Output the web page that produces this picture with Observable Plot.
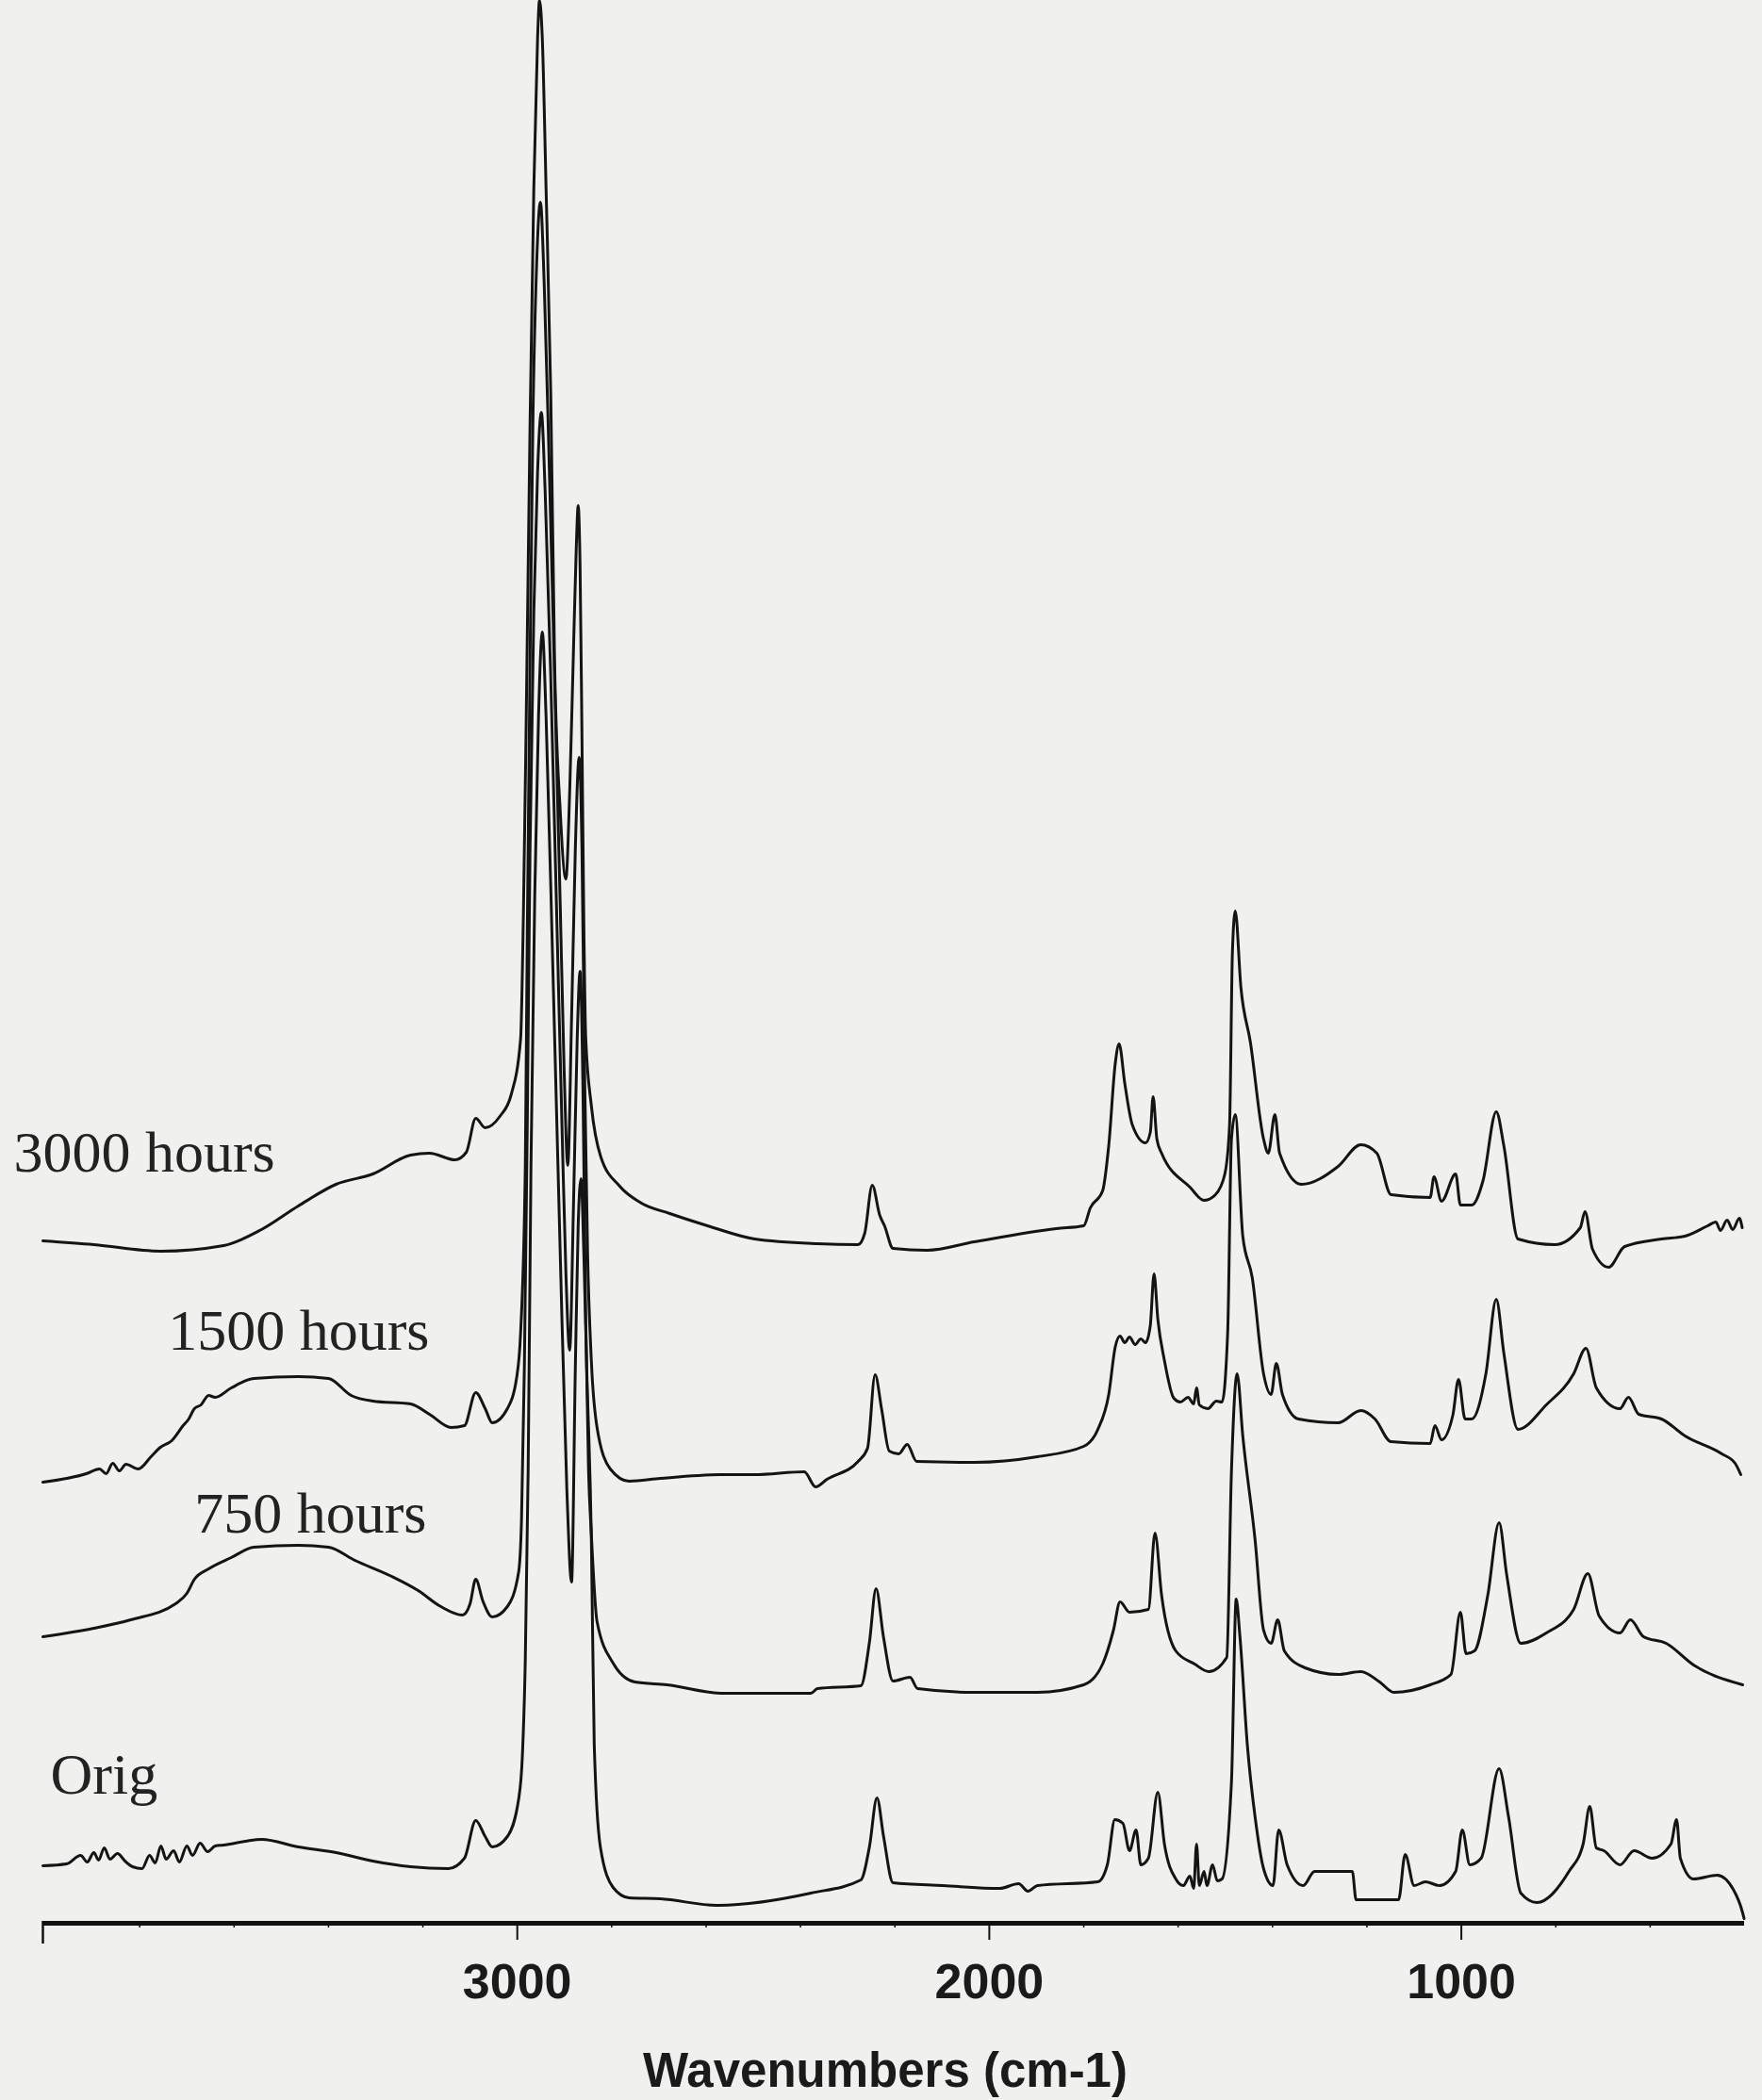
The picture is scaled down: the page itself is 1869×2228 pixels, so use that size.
<!DOCTYPE html>
<html><head><meta charset="utf-8">
<script src="https://cdn.jsdelivr.net/npm/d3@7"></script>
<script src="https://cdn.jsdelivr.net/npm/@observablehq/plot@0.6"></script>
<style>
html,body{margin:0;padding:0;background:#f0f0ee;}
</style>
</head><body><div id="chart"></div>
<script>
// Series names (top to bottom)
const seriesNames = ["3000 hours", "1500 hours", "750 hours", "Orig"];

// Spectra: [wavenumber (cm-1), stacked intensity (a.u.)]
const h3000 = [[4005,7.24],[3897,7.20],[3756,7.13],[3622,7.19],[3542,7.36],[3464,7.61],[3384,7.84],[3306,7.95],[3226,8.15],[3186,8.17],[3132,8.10],[3108,8.18],[3088,8.54],[3068,8.44],[3037,8.56],[3013,8.79],[2993,9.38],[2987,10.72],[2981,12.80],[2973,15.90],[2965,18.40],[2957,20.00],[2953,20.40],[2947,20.00],[2939,18.40],[2929,16.20],[2921,13.40],[2909,11.80],[2897,11.08],[2889,12.00],[2881,13.50],[2875,14.60],[2871,15.04],[2867,14.40],[2863,12.60],[2859,10.60],[2855,9.40],[2843,8.67],[2823,8.13],[2783,7.82],[2737,7.64],[2677,7.53],[2597,7.40],[2497,7.26],[2364,7.21],[2278,7.20],[2264,7.32],[2248,7.83],[2232,7.51],[2222,7.40],[2204,7.16],[2132,7.14],[2032,7.23],[1858,7.37],[1800,7.40],[1786,7.59],[1760,7.77],[1747,8.25],[1733,9.13],[1725,9.33],[1713,8.91],[1697,8.47],[1669,8.28],[1659,8.39],[1653,8.77],[1645,8.32],[1635,8.17],[1575,7.81],[1545,7.67],[1521,7.73],[1501,7.95],[1491,8.47],[1485,10.30],[1479,10.74],[1467,9.93],[1447,9.35],[1419,8.32],[1409,8.17],[1395,8.58],[1385,8.17],[1339,7.84],[1261,8.03],[1213,8.26],[1179,8.17],[1149,7.73],[1066,7.70],[1058,7.92],[1042,7.66],[1012,7.95],[1002,7.62],[978,7.62],[954,7.88],[926,8.61],[910,8.25],[880,7.26],[802,7.20],[748,7.38],[738,7.55],[722,7.15],[688,6.96],[654,7.18],[576,7.26],[526,7.29],[478,7.40],[461,7.44],[451,7.35],[437,7.46],[425,7.36],[411,7.48],[405,7.38]];

const h1500 = [[4005,4.68],[3913,4.77],[3885,4.82],[3871,4.77],[3857,4.88],[3843,4.80],[3829,4.87],[3803,4.82],[3776,4.95],[3756,5.05],[3732,5.12],[3708,5.28],[3696,5.35],[3684,5.46],[3670,5.50],[3654,5.60],[3640,5.58],[3606,5.68],[3558,5.78],[3464,5.80],[3400,5.78],[3352,5.60],[3306,5.54],[3226,5.51],[3186,5.40],[3140,5.26],[3112,5.28],[3088,5.63],[3068,5.46],[3053,5.31],[3021,5.46],[3001,5.80],[2993,6.26],[2983,8.04],[2979,10.40],[2973,13.40],[2967,15.90],[2959,17.60],[2951,18.26],[2943,17.40],[2933,15.60],[2921,13.20],[2909,10.80],[2901,9.10],[2893,8.04],[2885,9.60],[2877,11.40],[2869,12.37],[2863,11.40],[2857,8.90],[2851,7.10],[2843,5.96],[2831,5.26],[2803,4.82],[2763,4.69],[2697,4.72],[2563,4.76],[2497,4.76],[2392,4.79],[2368,4.63],[2344,4.71],[2278,4.90],[2258,5.04],[2242,5.82],[2228,5.45],[2212,5.01],[2192,4.98],[2174,5.08],[2154,4.90],[2032,4.89],[1898,4.95],[1800,5.06],[1770,5.24],[1747,5.61],[1733,6.12],[1723,6.23],[1713,6.16],[1703,6.22],[1691,6.14],[1679,6.20],[1669,6.16],[1659,6.34],[1651,6.89],[1643,6.41],[1629,5.97],[1609,5.57],[1595,5.53],[1579,5.58],[1567,5.51],[1561,5.68],[1555,5.50],[1537,5.46],[1519,5.54],[1507,5.53],[1495,6.27],[1487,8.32],[1479,8.58],[1463,7.29],[1443,6.85],[1419,5.83],[1403,5.61],[1392,5.94],[1379,5.61],[1345,5.35],[1261,5.31],[1213,5.44],[1183,5.35],[1149,5.11],[1066,5.09],[1056,5.28],[1042,5.13],[1018,5.39],[1006,5.77],[992,5.35],[978,5.35],[948,5.83],[926,6.62],[910,6.05],[880,5.24],[820,5.50],[762,5.83],[736,6.10],[714,5.68],[664,5.46],[646,5.58],[624,5.40],[576,5.35],[526,5.17],[448,4.98],[420,4.88],[408,4.76]];

const h750 = [[4005,3.04],[3897,3.13],[3819,3.22],[3724,3.39],[3700,3.50],[3684,3.65],[3654,3.76],[3606,3.88],[3558,3.99],[3464,4.01],[3400,3.99],[3344,3.85],[3266,3.68],[3210,3.53],[3162,3.36],[3116,3.27],[3100,3.39],[3088,3.65],[3073,3.42],[3053,3.25],[3021,3.36],[2997,3.73],[2991,4.29],[2985,5.90],[2979,8.40],[2973,11.40],[2965,13.90],[2957,15.40],[2949,16.03],[2941,15.20],[2929,13.20],[2917,10.80],[2905,8.40],[2897,6.90],[2889,6.08],[2881,7.60],[2873,9.40],[2867,10.10],[2861,8.90],[2855,6.40],[2849,4.80],[2843,4.12],[2831,3.20],[2797,2.76],[2751,2.56],[2683,2.53],[2563,2.44],[2378,2.44],[2364,2.49],[2272,2.52],[2254,2.98],[2240,3.55],[2224,3.03],[2204,2.57],[2168,2.61],[2152,2.49],[2032,2.45],[1898,2.45],[1800,2.53],[1760,2.75],[1737,3.11],[1723,3.41],[1703,3.30],[1663,3.33],[1649,4.14],[1635,3.48],[1605,2.89],[1565,2.75],[1535,2.67],[1497,2.82],[1487,4.80],[1475,5.83],[1463,5.17],[1437,4.07],[1419,3.11],[1403,2.97],[1389,3.22],[1375,2.89],[1331,2.71],[1261,2.64],[1213,2.67],[1173,2.56],[1143,2.45],[1066,2.53],[1022,2.64],[1002,3.30],[990,2.86],[972,2.89],[944,3.48],[920,4.25],[904,3.70],[874,2.97],[820,3.08],[762,3.33],[732,3.71],[708,3.26],[664,3.08],[642,3.22],[614,3.04],[566,2.97],[508,2.74],[404,2.53]];

const orig = [[4005,0.61],[3955,0.63],[3925,0.72],[3911,0.65],[3897,0.75],[3887,0.67],[3875,0.80],[3863,0.68],[3847,0.74],[3831,0.66],[3815,0.60],[3795,0.58],[3779,0.72],[3767,0.64],[3755,0.82],[3744,0.68],[3728,0.77],[3716,0.65],[3700,0.82],[3688,0.72],[3672,0.85],[3656,0.76],[3640,0.82],[3622,0.83],[3576,0.87],[3542,0.89],[3464,0.81],[3384,0.75],[3306,0.66],[3226,0.60],[3146,0.58],[3112,0.69],[3088,1.09],[3068,0.92],[3053,0.81],[3021,0.92],[2997,1.32],[2989,1.80],[2983,2.80],[2977,4.80],[2971,8.04],[2963,10.90],[2955,12.80],[2947,13.70],[2939,12.80],[2925,10.20],[2909,7.10],[2895,4.60],[2885,3.62],[2877,5.90],[2871,7.40],[2865,7.90],[2859,7.10],[2853,5.90],[2843,4.06],[2837,1.90],[2824,0.81],[2797,0.38],[2763,0.27],[2697,0.26],[2577,0.19],[2378,0.32],[2272,0.46],[2254,0.81],[2238,1.33],[2224,0.92],[2204,0.43],[2098,0.40],[1978,0.37],[1938,0.42],[1918,0.34],[1898,0.40],[1770,0.44],[1750,0.62],[1734,1.10],[1717,1.06],[1703,0.77],[1689,0.99],[1679,0.62],[1663,0.69],[1643,1.39],[1629,0.84],[1605,0.47],[1589,0.40],[1575,0.50],[1567,0.37],[1561,0.84],[1555,0.40],[1545,0.55],[1539,0.40],[1527,0.62],[1517,0.45],[1507,0.47],[1487,1.50],[1477,3.44],[1469,3.04],[1453,1.87],[1437,1.13],[1419,0.58],[1399,0.40],[1387,0.99],[1369,0.62],[1335,0.40],[1311,0.55],[1231,0.55],[1223,0.25],[1133,0.25],[1119,0.73],[1100,0.40],[1076,0.44],[1046,0.40],[1012,0.55],[998,0.99],[982,0.62],[958,0.69],[920,1.64],[900,1.13],[874,0.32],[840,0.22],[772,0.55],[742,0.84],[728,1.24],[714,0.80],[698,0.77],[664,0.62],[634,0.77],[596,0.69],[556,0.84],[544,1.10],[536,0.69],[508,0.47],[458,0.51],[424,0.36],[404,0.11],[401,0.05]];

// Axis ticks
const majorTicks = [3000, 2000, 1000];
const minorTicks = [3800, 3600, 3400, 3200, 2800, 2600, 2400, 2200, 1800, 1600, 1400, 1200, 800, 600];
const xDomain = [4005, 400];
const axisTitle = "Wavenumbers (cm-1)";

// Series label anchors (data coordinates)
const labelWn = [4067, 3740, 3684, 3989];
const labelV = [7.98, 6.09, 4.15, 1.38];

const allSeries = [h3000, h1500, h750, orig];
const rows = [];
allSeries.forEach((s, i) => s.forEach(([wn, v]) => rows.push({series: seriesNames[i], wn, v})));
const labels = seriesNames.map((name, i) => ({name, wn: labelWn[i], v: labelV[i]}));

const sans = "'Liberation Sans', Arial, sans-serif";
const serif = "'Liberation Serif', 'Times New Roman', serif";

const chart = Plot.plot({
  width: 1869,
  height: 2228,
  marginLeft: 45,
  marginRight: 19,
  marginTop: 0,
  marginBottom: 188,
  x: {domain: xDomain},
  y: {domain: [0, 20.4], axis: null},
  style: {background: "#f0f0ee", color: "#1a1a1a", overflow: "visible"},
  marks: [
    Plot.line(rows, {x: "wn", y: "v", z: "series", curve: "monotone-x", stroke: "#141414", strokeWidth: 3, strokeLinejoin: "round", strokeLinecap: "round"}),
    Plot.ruleY([0], {stroke: "#111", strokeWidth: 5}),
    Plot.ruleX([xDomain[0]], {y1: 0.02, y2: -0.22, stroke: "#111", strokeWidth: 2.5}),
    Plot.axisX({ticks: minorTicks, tickSize: 5, tickFormat: () => "", label: null, stroke: "#111", strokeWidth: 1.5}),
    Plot.axisX({ticks: majorTicks, tickSize: 18, tickPadding: 25, tickFormat: d => String(d), label: null,
      fontSize: 52, fontWeight: "bold", fontFamily: sans, fill: "#1a1a1a", stroke: "#111", strokeWidth: 2}),
    Plot.text([axisTitle], {frameAnchor: "bottom", dx: -9, dy: 173, lineAnchor: "bottom", fontSize: 51, fontWeight: "bold", fontFamily: sans, fill: "#1a1a1a"}),
    Plot.text(labels, {x: "wn", y: "v", text: "name", textAnchor: "start", lineAnchor: "bottom", fontSize: 62, fontFamily: serif, fill: "#222"})
  ]
});
document.getElementById("chart").append(chart);
</script>
</body></html>
